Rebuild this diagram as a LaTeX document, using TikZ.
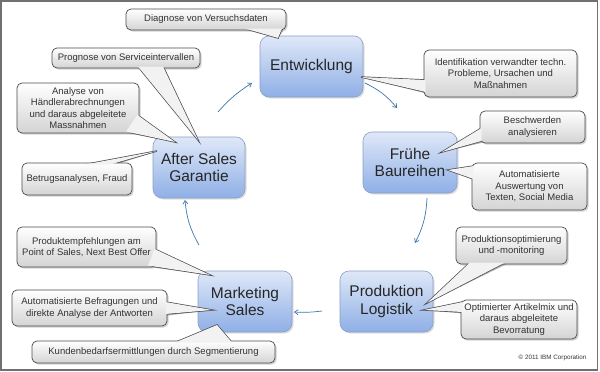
\documentclass[tikz,border=0pt]{standalone}
\usepackage{fontspec}
\setmainfont{Liberation Sans}
\usetikzlibrary{arrows.meta,shadows}
\definecolor{maintop}{HTML}{DFE8F8}
\definecolor{mainbot}{HTML}{8FAFE6}
\definecolor{mainborder}{HTML}{8A9FC6}
\definecolor{callbord}{HTML}{4A4A4A}
\definecolor{callbot}{HTML}{D4D4D4}
\definecolor{arrowcol}{HTML}{3B78B0}
\definecolor{frame}{HTML}{707070}
\tikzset{
  mainbox/.style={rounded corners=9pt, draw=mainborder, line width=0.6pt,
    top color=maintop, bottom color=mainbot, align=center, text=black!85,
    font=\fontsize{15.5}{17.5}\selectfont, inner sep=1pt,
    drop shadow={opacity=.25, shadow xshift=1.5pt, shadow yshift=-1.5pt}},
  callbox/.style={rounded corners=5pt, draw=callbord, line width=0.7pt,
    top color=white, bottom color=callbot, align=center, text=black!80,
    font=\fontsize{9.5}{11.5}\selectfont, inner sep=1pt,
    drop shadow={opacity=.35, shadow xshift=1.6pt, shadow yshift=-1.6pt}},
  wedgestroke/.style={draw=callbord, line width=1.4pt, line join=miter},
  wedgefill/.style={fill=black!5},
  flow/.style={draw=arrowcol, line width=0.7pt, -{Straight Barb[length=3.5pt,width=5pt]}, bend left=12},
}
% name, center, width, height, text, base1, base2, tip
\newcommand\mycallout[8]{%
  \fill[black,opacity=.3,xshift=1.6pt,yshift=-1.6pt] (#6) -- (#8) -- (#7) -- cycle;
  \draw[wedgestroke] (#6) -- (#8) -- (#7);
  \node[callbox,minimum width=#3,minimum height=#4] (#1) at (#2) {#5};
  \fill[wedgefill] (#6) -- (#8) -- (#7) -- cycle;
}
\begin{document}
\begin{tikzpicture}[x=1pt,y=-1pt]
\useasboundingbox (0,0) rectangle (600,372);
\fill[white] (0,0) rectangle (600,372);
\draw[frame,line width=1.3pt] (1,1) rectangle (597.5,370);

% main boxes
\node[mainbox,minimum width=103,minimum height=61] (ent) at (311.5,66.5) {Entwicklung};
\node[mainbox,minimum width=94,minimum height=61] (fru) at (410,162.5) {Frühe\\Baureihen};
\node[mainbox,minimum width=92,minimum height=61] (aft) at (199,167.5) {After Sales\\Garantie};
\node[mainbox,minimum width=94,minimum height=61] (mar) at (245,301.5) {Marketing\\Sales};
\node[mainbox,minimum width=93,minimum height=61] (pro) at (386.5,301.5) {Produktion\\Logistik};

% cycle arrows
\coordinate (a1s) at (218,112); \coordinate (a1e) at (252,83);
\coordinate (a2s) at (365,83);  \coordinate (a2e) at (397,108);
\coordinate (a3s) at (427,198); \coordinate (a3e) at (415,243);
\coordinate (a4s) at (322,311); \coordinate (a4e) at (294,312);
\coordinate (a5s) at (199,245); \coordinate (a5e) at (185,200);
\draw[flow,bend left=8] (a1s) to (a1e);
\draw[flow] (a2s) to (a2e);
\draw[flow] (a3s) to (a3e);
\draw[flow,bend left=5] (a4s) to (a4e);
\draw[flow] (a5s) to (a5e);

% callout tips
\coordinate (t1) at (278,38);
\coordinate (t2) at (198,140);
\coordinate (t3) at (175,142);
\coordinate (t4) at (157,151);
\coordinate (t5) at (361,77);
\coordinate (t6) at (442,152);
\coordinate (t7) at (448,170);
\coordinate (t8) at (427,303);
\coordinate (t9) at (424,310);
\coordinate (t10) at (210,275);
\coordinate (t11) at (212,310);
\coordinate (t12) at (217,325);

\mycallout{c1}{206,19.5}{160}{21}{Diagnose von Versuchsdaten}{245,28.5}{282,28.5}{t1}
\mycallout{c2}{126,58}{148}{20}{Prognose von Serviceintervallen}{138,66.5}{163,66.5}{t2}
\mycallout{c3}{78,108}{122}{50}{Analyse von\\Händlerabrechnungen\\und daraus abgeleitete\\Massnahmen}{137.5,115}{126,131.5}{t3}
\mycallout{c4}{77,179}{110}{32}{Betrugsanalysen, Fraud}{85,164.5}{110,164.5}{t4}
\mycallout{c5}{500.5,73.5}{153}{47}{Identifikation verwandter techn.\\Probleme, Ursachen und\\Maßnahmen}{425.5,80}{425.5,92}{t5}
\mycallout{c6}{532.5,127}{105}{32}{Beschwerden\\analysieren}{481.5,128}{481.5,141}{t6}
\mycallout{c7}{529.5,186.5}{115}{47}{Automatisierte\\Auswertung von\\Texten, Social Media}{473.5,166}{473.5,179}{t7}
\mycallout{c8}{511.5,245.5}{111}{37}{Produktionsoptimierung\\und -monitoring}{470,262.5}{505,262.5}{t8}
\mycallout{c9}{519,319.5}{116}{39}{Optimierter Artikelmix und\\daraus abgeleitete\\Bevorratung}{462.5,302}{462.5,312}{t9}
\mycallout{c10}{86.5,247}{139}{40}{Produktempfehlungen am\\Point of Sales, Next Best Offer}{154.5,249}{148,265.5}{t10}
\mycallout{c11}{89.5,308}{155}{36}{Automatisierte Befragungen und\\direkte Analyse der Antworten}{165.5,302}{165.5,314}{t11}
\mycallout{c12}{153.5,352}{243}{22}{Kundenbedarfsermittlungen durch Segmentierung}{175,342.5}{232,342.5}{t12}

\node[font=\fontsize{6.3}{7}\selectfont, text=black!80] (copy) at (552.5,358) {© 2011 IBM Corporation};
\end{tikzpicture}
\end{document}
